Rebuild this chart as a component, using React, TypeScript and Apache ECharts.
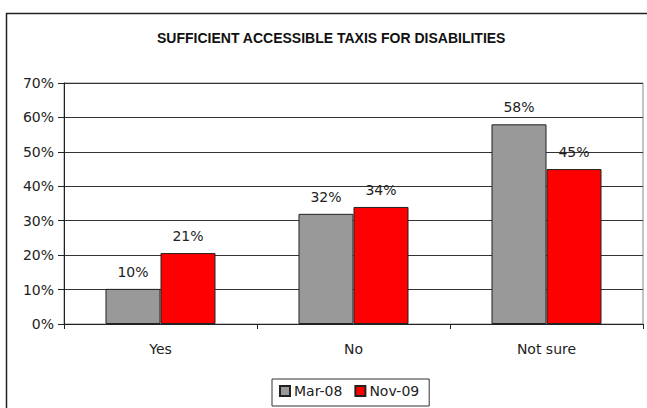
import React, { useEffect, useRef } from "react";
import * as echarts from "echarts";

const categories = ["Yes", "No", "Not sure"];
const seriesNames = ["Mar-08", "Nov-09"];
const mar08 = [10.2, 32, 58];
const nov09 = [20.6, 34, 45];
const titleText = "SUFFICIENT ACCESSIBLE TAXIS FOR DISABILITIES";

const FONT = "'DejaVu Sans', sans-serif";
const TITLE_FONT = "'Liberation Sans', Arial, sans-serif";

export default function App() {
  const ref = useRef<HTMLDivElement>(null);
  useEffect(() => {
    document.body.style.margin = "0";
    const chart = echarts.init(ref.current!, null, { renderer: "svg" });
    const labelCfg = {
      show: true,
      position: "top" as const,
      distance: 10,
      color: "#222",
      fontSize: 14,
      fontFamily: FONT,
      formatter: (p: any) => Math.round(p.value) + "%",
    };
    chart.setOption({
      animation: false,
      backgroundColor: "#fff",
      title: {
        text: titleText,
        left: 152,
        top: 26,
        textStyle: { fontSize: 14, fontWeight: "bold", color: "#111", fontFamily: TITLE_FONT },
      },
      graphic: [
        {
          type: "rect",
          shape: { x: 6.5, y: 13.5, width: 700, height: 500 },
          style: { fill: "none", stroke: "#222", lineWidth: 1.5 },
          z: 100,
        },
      ],
      legend: {
        left: 272,
        top: 379,
        padding: [5, 10, 8, 7],
        borderColor: "#333",
        borderWidth: 1,
        itemWidth: 10,
        itemHeight: 10,
        itemGap: 12,
        icon: "rect",
        textStyle: { fontSize: 14, color: "#222", fontFamily: FONT, padding: [0, 0, 0, -1] },
        data: seriesNames,
      },
      grid: {
        left: 64,
        right: 4,
        top: 83,
        bottom: 84,
        show: true,
        borderColor: "#888",
        borderWidth: 1,
      },
      xAxis: {
        type: "category",
        data: categories,
        axisLine: { lineStyle: { color: "#222", width: 1 } },
        axisTick: { show: true, length: 5, lineStyle: { color: "#222" } },
        axisLabel: { color: "#222", fontSize: 14, fontFamily: FONT, margin: 18 },
      },
      yAxis: {
        type: "value",
        min: 0,
        max: 70,
        interval: 10,
        axisLine: { show: true, lineStyle: { color: "#222", width: 1 } },
        axisTick: { show: true, length: 6, lineStyle: { color: "#222" } },
        axisLabel: { color: "#222", fontSize: 14, fontFamily: FONT, margin: 10, formatter: "{value}%" },
        splitLine: { show: true, lineStyle: { color: "#333", width: 1 } },
      },
      series: [
        {
          name: seriesNames[0],
          type: "bar",
          data: mar08,
          barGap: "0%",
          barCategoryGap: "43%",
          itemStyle: { color: "#999999", borderColor: "#222", borderWidth: 1 },
          label: labelCfg,
        },
        {
          name: seriesNames[1],
          type: "bar",
          data: nov09,
          itemStyle: { color: "#ff0000", borderColor: "#222", borderWidth: 1 },
          label: labelCfg,
        },
      ],
    });
    return () => chart.dispose();
  }, []);
  return <div ref={ref} style={{ width: 647, height: 408 }} />;
}
